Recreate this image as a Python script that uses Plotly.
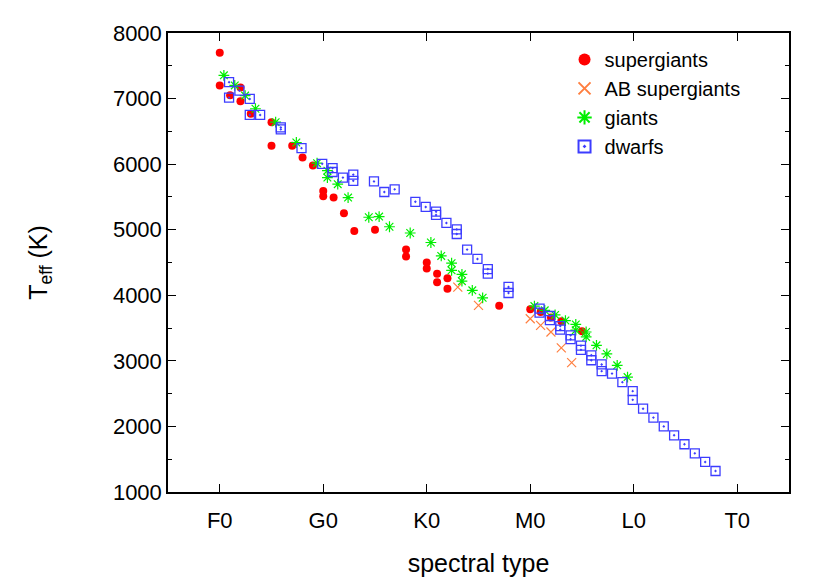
import plotly.graph_objects as go

# spectral subtype index: F0=0, G0=10, K0=20, M0=30, L0=40, T0=50
tick_vals = [0, 10, 20, 30, 40, 50]
tick_text = ["F0", "G0", "K0", "M0", "L0", "T0"]

sg_x = [0, 0, 1, 2, 2, 3, 5, 5, 7, 8, 9, 10, 10, 11, 12, 13, 15, 18, 18, 20, 20,
        21, 21, 22, 22, 27, 30, 31, 32, 33, 35]
sg_t = [7700, 7200, 7050, 7170, 6960, 6770, 6640, 6280, 6280, 6100, 5980, 5590, 5510,
        5490, 5250, 4980, 5000, 4700, 4590, 4500, 4410, 4330, 4200, 4260, 4100, 3840,
        3786, 3745, 3660, 3604, 3450]

ab_x = [23, 25, 30, 31, 32, 33, 34]
ab_t = [4125, 3845, 3642, 3541, 3440, 3198, 2973]

gi_x = [0.4, 1.45, 2.45, 3.45, 5.4, 7.4, 9.4, 10.4, 10.4, 11.4, 12.4, 14.4, 15.4,
        16.4, 18.4, 20.4, 21.4, 22.4, 22.4, 23.4, 23.4, 24.4, 25.4, 30.4, 31.4, 32.4,
        33.4, 34.4, 34.4, 35.4, 35.4, 36.4, 37.4, 38.4, 39.4]
gi_t = [7355, 7200, 7045, 6845, 6640, 6330, 6015, 5900, 5795, 5695, 5490, 5190, 5200,
        5045, 4950, 4805, 4600, 4490, 4380, 4320, 4215, 4075, 3962, 3835, 3771, 3700,
        3615, 3555, 3468, 3440, 3365, 3237, 3105, 2932, 2752]

dw_x = [0.9, 0.9, 1.9, 2.9, 2.9, 3.9, 5.9, 5.9, 7.9, 9.9, 10.9, 10.9, 11.9, 12.9,
        12.9, 14.9, 15.9, 16.9, 18.9, 19.9, 20.9, 20.9, 21.9, 22.9, 22.9, 23.9, 24.9,
        25.9, 25.9, 27.9, 27.9, 30.9, 30.9, 31.9, 31.9, 32.9, 32.9, 33.9, 33.9, 34.9,
        34.9, 35.9, 35.9, 36.9, 36.9, 37.9, 38.9, 39.9, 39.9, 40.9, 41.9, 42.9, 43.9,
        44.9, 45.9, 46.9, 47.9]
dw_t = [7250, 7015, 7122, 6994, 6750, 6750, 6560, 6530, 6244, 6005, 5940, 5880, 5795,
        5840, 5745, 5736, 5575, 5616, 5426, 5347, 5275, 5225, 5103, 5004, 4935, 4697,
        4554, 4400, 4331, 4127, 4035, 3797, 3736, 3684, 3620, 3530, 3475, 3390, 3330,
        3232, 3168, 3085, 3009, 2945, 2843, 2806, 2675, 2538, 2406, 2270, 2135, 2000,
        1865, 1728, 1590, 1458, 1320]

FONT = "Liberation Sans, Arial, Helvetica, sans-serif"

fig = go.Figure()
fig.add_trace(go.Scatter(x=sg_x, y=sg_t, mode="markers", name="supergiants",
                         marker=dict(symbol="circle", size=8, color="#ff0000",
                                     line=dict(width=0))))
fig.add_trace(go.Scatter(x=ab_x, y=ab_t, mode="markers", name="AB supergiants",
                         marker=dict(symbol="x-thin-open", size=9, color="#ff7f40",
                                     line=dict(width=1.2, color="#ff7f40"))))
fig.add_trace(go.Scatter(x=gi_x, y=gi_t, mode="markers", name="giants",
                         marker=dict(symbol="asterisk-open", size=9, color="#00ee00",
                                     line=dict(width=1.2, color="#00ee00"))))
fig.add_trace(go.Scatter(x=dw_x, y=dw_t, mode="markers", name="dwarfs",
                         marker=dict(symbol="square-open-dot", size=9, color="#3c3cff",
                                     line=dict(width=1.3, color="#3c3cff"))))

axis_common = dict(showline=True, linecolor="black", linewidth=1.5, mirror="allticks",
                   ticks="inside", tickcolor="black", tickwidth=1.2, showgrid=False,
                   zeroline=False, tickfont=dict(family=FONT, size=22, color="black"))

fig.update_xaxes(range=[-5, 55], tickvals=tick_vals, ticktext=tick_text, ticklen=8,
                 ticklabelstandoff=8,
                 title=dict(text="spectral type", font=dict(family=FONT, size=25,
                                                            color="black"), standoff=22),
                 **axis_common)
fig.update_yaxes(range=[1000, 8000], dtick=1000, ticklen=8,
                 minor=dict(dtick=500, ticks="inside", ticklen=4, tickcolor="black",
                            tickwidth=1.2),
                 title=dict(text="T<sub>eff</sub> (K)", font=dict(family=FONT, size=25,
                                                                 color="black"),
                            standoff=58),
                 **axis_common)

fig.update_layout(
    width=830, height=581,
    margin=dict(l=160, r=49, t=25, b=97, autoexpand=False),
    paper_bgcolor="white", plot_bgcolor="white",
    showlegend=True,
    legend=dict(x=0.93, y=0.985, xanchor="right", yanchor="top",
                bgcolor="rgba(0,0,0,0)", font=dict(family=FONT, size=20, color="black"),
                tracegroupgap=0, itemsizing="constant"),
)

fig.write_html("out.html")
